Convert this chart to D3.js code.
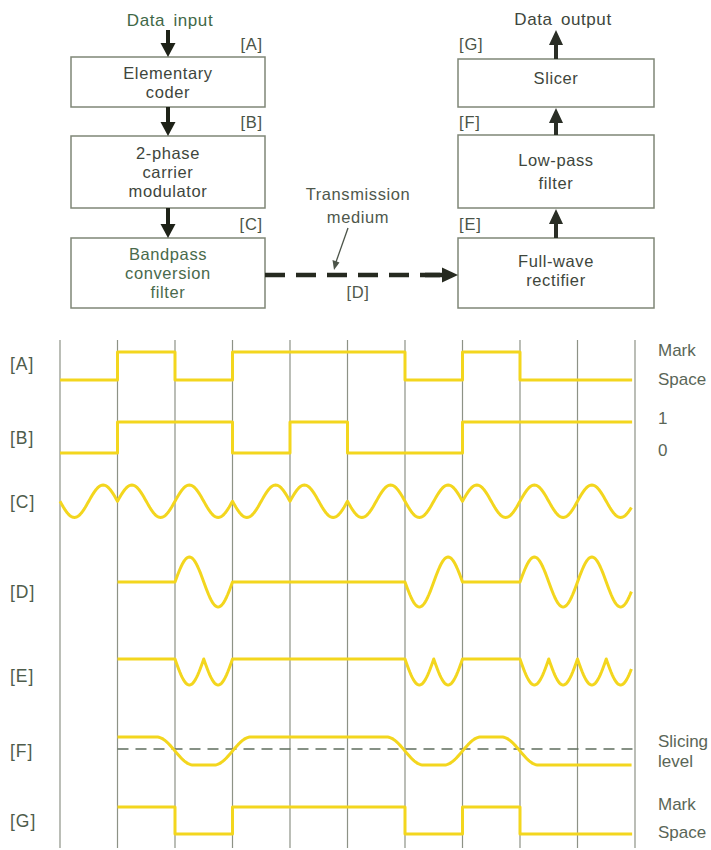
<!DOCTYPE html>
<html><head><meta charset="utf-8">
<script src="https://cdn.jsdelivr.net/npm/d3@7"></script>
<style>
html,body{margin:0;padding:0;background:#fff;}
svg{display:block;font-family:"Liberation Sans",Arial,sans-serif;}
</style></head>
<body><svg id="c" width="711" height="850"></svg>
<script>
// ---------- data ----------
const bitIndex   = [0,1,2,3,4,5,6,7,8,9];
const dataA      = [0,1,0,1,1,1,0,1,0,0];      // [A] Mark=1 / Space=0
const codedB     = [0,1,1,0,1,0,0,1,1,1];      // [B] 1 / 0
const gateD      = [0,0,1,0,0,0,1,0,1,1];      // carrier passed on [D]
const outputG    = [null,1,0,1,1,1,0,1,0,0];   // [G] (and [F] low-pass level)
const rowLabels  = ["[A]","[B]","[C]","[D]","[E]","[F]","[G]"];
const rightLabels = [["Mark","Space"],["1","0"],["Slicing","level"],["Mark","Space"]];
const leftBlocks  = [["Elementary","coder"],["2-phase","carrier","modulator"],["Bandpass","conversion","filter"]];
const rightBlocks = [["Slicer"],["Low-pass","filter"],["Full-wave","rectifier"]];
const leftTags  = ["[A]","[B]","[C]"];
const rightTags = ["[G]","[F]","[E]"];

// ---------- setup ----------
const svg = d3.select("#c");
const YEL = "#f3d61e", GRID = "#8d9286", BOX = "#7f8677", DARK = "#1e2218";
const x = d3.scaleLinear().domain([0,10]).range([60,635]);
const xEnd = 9.95;

// ---------- block diagram ----------
const leftBox = {x0:71,x1:265,rows:[[57,107],[136,208],[238,308]],base:[[79,98],[159,178,197],[260,279,298]]};
const rightBox= {x0:458,x1:654,rows:[[59,107],[135,208],[238,308]],base:[[84],[166,189],[267,286]]};
function drawBoxes(b, texts, cx, col){
  b.rows.forEach((r,i)=>{
    svg.append("rect").attr("x",b.x0).attr("y",r[0]).attr("width",b.x1-b.x0).attr("height",r[1]-r[0])
      .attr("fill","none").attr("stroke",BOX).attr("stroke-width",1.5);
    texts[i].forEach((t,j)=>{
      svg.append("text").attr("x",cx).attr("y",b.base[i][j]).attr("text-anchor","middle")
        .attr("font-size",16.5).attr("letter-spacing",0.6).attr("fill",col[i]).text(t);
    });
  });
}
drawBoxes(leftBox,leftBlocks,168,["#3e463c","#3e463c","#496a4c"]);
drawBoxes(rightBox,rightBlocks,556,["#3e463c","#3e463c","#3e463c"]);

// arrows
function arrow(xc,yFrom,yTo,hw,hl,col){
  const dir = yTo>yFrom?1:-1;
  const yb = yTo - dir*hl;
  svg.append("line").attr("x1",xc).attr("x2",xc).attr("y1",yFrom).attr("y2",yb+dir*1)
    .attr("stroke",col).attr("stroke-width",4);
  svg.append("path").attr("d",`M${xc-hw},${yb}L${xc+hw},${yb}L${xc},${yTo}Z`).attr("fill",col);
}
arrow(168,30,57,7.5,14,DARK);
arrow(168,107,136,7.5,14,DARK);
arrow(168,208,238,7.5,14,DARK);
arrow(556,59,30,7,15,"#2a2e26");
arrow(556,135,108,7,15,"#2a2e26");
arrow(556,238,209,7,15,"#2a2e26");

// dashed transmission arrow
svg.append("line").attr("x1",265).attr("x2",443).attr("y1",275).attr("y2",275)
  .attr("stroke","#262a20").attr("stroke-width",4.5).attr("stroke-dasharray","20,11");
svg.append("line").attr("x1",425).attr("x2",445).attr("y1",275).attr("y2",275)
  .attr("stroke","#262a20").attr("stroke-width",4.5);
svg.append("path").attr("d","M442,267.5L458,275L442,282.5Z").attr("fill","#262a20");
// pointer
svg.append("line").attr("x1",348).attr("y1",228).attr("x2",336).attr("y2",262)
  .attr("stroke","#4c5449").attr("stroke-width",1.3);
svg.append("path").attr("d","M332.5,260L334,270L339.5,262.5Z").attr("fill","#4c5449");

// top texts
const tAttr = (s)=>s.attr("font-size",16.5).attr("letter-spacing",0.6).attr("text-anchor","middle");
tAttr(svg.append("text")).attr("x",170).attr("y",26).attr("fill","#3f6847").attr("word-spacing",3).attr("font-size",17).text("Data input");
tAttr(svg.append("text")).attr("x",563).attr("y",25).attr("fill","#3e463c").attr("word-spacing",3).attr("font-size",17).text("Data output");
tAttr(svg.append("text")).attr("x",358).attr("y",200).attr("fill","#4f584c").text("Transmission");
tAttr(svg.append("text")).attr("x",358).attr("y",223).attr("fill","#4f584c").text("medium");
tAttr(svg.append("text")).attr("x",358).attr("y",298).attr("fill","#4f584c").text("[D]");
const lTagY=[50,128,230];
leftTags.forEach((t,i)=>svg.append("text").attr("x",263).attr("y",lTagY[i]).attr("text-anchor","end")
  .attr("font-size",16.5).attr("letter-spacing",0.8).attr("fill","#4a5448").text(t));
rightTags.forEach((t,i)=>svg.append("text").attr("x",459).attr("y",lTagY[i]).attr("text-anchor","start")
  .attr("font-size",16.5).attr("letter-spacing",0.8).attr("fill","#4a5448").text(t));

// ---------- timing diagram ----------
// grid
svg.append("g").selectAll("line").data(d3.range(0,11)).join("line")
  .attr("x1",d=>x(d)).attr("x2",d=>x(d)).attr("y1",340).attr("y2",848)
  .attr("stroke",GRID).attr("stroke-width",1.2);

// slicing level
svg.append("line").attr("x1",x(1)).attr("x2",x(10)).attr("y1",749).attr("y2",749)
  .attr("stroke","#5f6e5e").attr("stroke-width",1.3).attr("stroke-dasharray","11,7");

const line = d3.line().x(d=>x(d[0])).y(d=>d[1]);
function draw(pts){
  svg.append("path").attr("d",line(pts)).attr("fill","none").attr("stroke",YEL)
    .attr("stroke-width",3).attr("stroke-linejoin","round").attr("stroke-linecap","butt");
}
// square wave points from per-bit values
function square(vals, yScale, start){
  const pts=[];
  for(let i=start;i<vals.length;i++){
    const y=yScale(vals[i]);
    pts.push([i,y]);
    pts.push([i===vals.length-1?xEnd:i+1,y]);
  }
  return pts;
}
const yA = d3.scaleLinear().domain([0,1]).range([380,352]);
const yB = d3.scaleLinear().domain([0,1]).range([453,422]);
const yG = d3.scaleLinear().domain([0,1]).range([834,807]);
const yF = d3.scaleLinear().domain([0,1]).range([765,737]);
const yC = d3.scaleLinear().domain([-1,1]).range([517.5,485]);
const yD = d3.scaleLinear().domain([-1,1]).range([607,557]);
const yE = d3.scaleLinear().domain([0,1]).range([659,685]);

draw(square(dataA,yA,0));
draw(square(codedB,yB,0));
draw(square(outputG,yG,1));

const N=48;
function wave(start, fn){
  const pts=[];
  for(let i=start;i<bitIndex.length;i++){
    for(let k=0;k<=N;k++){
      const t=i+k/N; if(t>xEnd) break;
      pts.push([t,fn(i,k/N)]);
    }
  }
  return pts;
}
const sgn = i=>codedB[i]?1:-1;
draw(wave(0,(i,f)=>yC(sgn(i)*Math.sin(2*Math.PI*f))));
draw(wave(1,(i,f)=>yD(gateD[i]*sgn(i)*Math.sin(2*Math.PI*f))));
draw(wave(1,(i,f)=>yE(gateD[i]*Math.abs(Math.sin(2*Math.PI*f)))));

// low-pass output: smoothed levels of outputG
const w=0.32;
function fLevel(t){
  const b=Math.round(t);
  if(b>=2 && b<=9 && Math.abs(t-b)<w && outputG[b-1]!==outputG[b]){
    const s=(t-(b-w))/(2*w);
    return outputG[b-1]+(outputG[b]-outputG[b-1])*(1-Math.cos(Math.PI*s))/2;
  }
  return outputG[Math.min(9,Math.floor(t))];
}
const fPts=[];
for(let t=1;t<=xEnd+1e-9;t+=0.02) fPts.push([t,yF(fLevel(t))]);
draw(fPts);

// labels
const rowY=[370,444,508,598,682,757,827];
svg.append("g").selectAll("text").data(rowLabels).join("text")
  .attr("x",10).attr("y",(d,i)=>rowY[i]).attr("font-size",17.5).attr("letter-spacing",1)
  .attr("fill","#4e5c4b").text(d=>d);
const rY=[[356,385],[424,456],[747,767],[810,838]];
rightLabels.forEach((pair,i)=>pair.forEach((t,j)=>{
  svg.append("text").attr("x",658).attr("y",rY[i][j]).attr("font-size",17).attr("letter-spacing",0)
    .attr("fill","#5a6657").text(t);
}));
</script></body></html>
